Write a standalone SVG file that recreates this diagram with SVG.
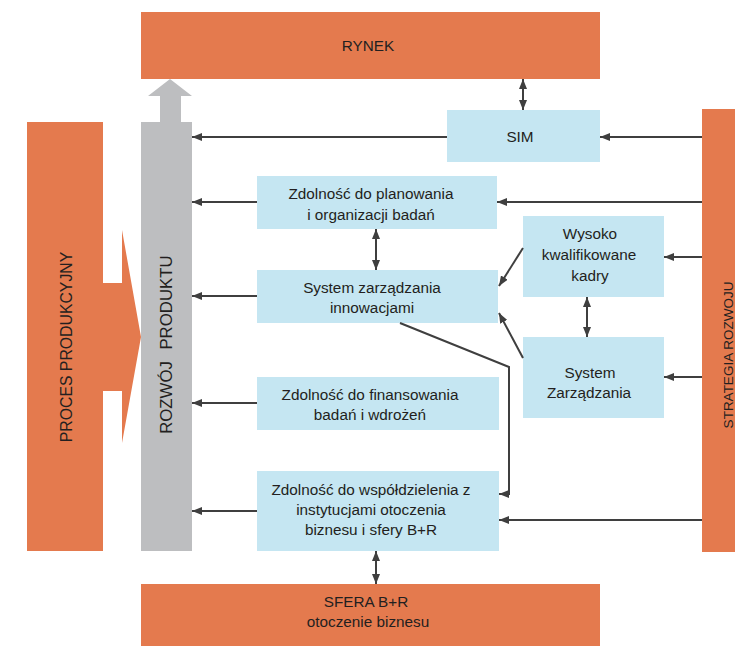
<svg xmlns="http://www.w3.org/2000/svg" width="735" height="646" viewBox="0 0 735 646">
<style>
.or{fill:#E47A4E}
.bl{fill:#C5E6F2}
.gr{fill:#BDBEC0}
text{font-family:"Liberation Sans",Arial,sans-serif;font-size:15.3px;fill:#231F20;text-anchor:middle}
.c{fill:none;stroke:#3F3F3F;stroke-width:2}
</style>
<defs>
<marker id="ah" markerUnits="userSpaceOnUse" markerWidth="10" markerHeight="8" refX="10" refY="4" orient="auto-start-reverse" viewBox="0 0 10 8">
<path d="M0,0 L10,4 L0,8 z" fill="#3F3F3F"/>
</marker>
</defs>
<rect width="735" height="646" fill="#fff"/>
<g id="rynek"><rect class="or" x="141" y="12" width="459" height="67"/><text x="368" y="51">RYNEK</text></g>
<g id="sfera"><rect class="or" x="141" y="584" width="459" height="62"/><text x="366" y="607">SFERA B+R</text><text x="368" y="627">otoczenie biznesu</text></g>
<g id="proces"><rect class="or" x="27" y="122" width="76" height="429"/><polygon class="or" points="103,283 122,283 122,230 141,337 122,443 122,391 103,391"/><text transform="translate(72,347) rotate(-90)" style="font-size:15.8px">PROCES PRODUKCYJNY</text></g>
<g id="rozwoj"><rect class="gr" x="141" y="122" width="51" height="429"/><polygon class="gr" points="160,122 160,96 148,96 170,79 192,96 181,96 181,122"/><text transform="translate(172,302.5) rotate(-90)" style="font-size:16.8px">PRODUKTU</text><text transform="translate(172,397.5) rotate(-90)" style="font-size:16.8px">ROZWÓJ</text></g>
<g id="strategia"><rect class="or" x="702" y="109" width="33" height="443"/><text transform="translate(733,355) rotate(-90)" style="font-size:13.5px">STRATEGIA ROZWOJU</text></g>
<g id="sim"><rect class="bl" x="447" y="110" width="153" height="52"/><text x="520" y="142">SIM</text></g>
<g id="planowanie"><rect class="bl" x="257" y="176" width="240" height="53"/><text x="371" y="199">Zdolność do planowania</text><text x="371" y="220">i organizacji badań</text></g>
<g id="szi"><rect class="bl" x="257" y="270" width="241" height="53"/><text x="372" y="293">System zarządzania</text><text x="372" y="313">innowacjami</text></g>
<g id="finansowanie"><rect class="bl" x="257" y="377" width="242" height="53"/><text x="370" y="400">Zdolność do finansowania</text><text x="370" y="420">badań i wdrożeń</text></g>
<g id="wspoldzielenie"><rect class="bl" x="257" y="471" width="242" height="80"/><text x="371" y="495">Zdolność do współdzielenia z</text><text x="371" y="515">instytucjami otoczenia</text><text x="371" y="535">biznesu i sfery B+R</text></g>
<g id="kadry"><rect class="bl" x="523" y="216" width="141" height="81"/><text x="590" y="239">Wysoko</text><text x="589" y="260">kwalifikowane</text><text x="590" y="281">kadry</text></g>
<g id="sz"><rect class="bl" x="523" y="337" width="141" height="81"/><text x="590" y="378">System</text><text x="589" y="398">Zarządzania</text></g>
<g id="connectors">
<path class="c" marker-end="url(#ah)" d="M447,137 H192"/>
<path class="c" marker-end="url(#ah)" d="M702,137 H600"/>
<path class="c" marker-end="url(#ah)" d="M257,202 H192"/>
<path class="c" marker-end="url(#ah)" d="M702,202 H497"/>
<path class="c" marker-end="url(#ah)" d="M257,296 H192"/>
<path class="c" marker-end="url(#ah)" d="M257,403 H192"/>
<path class="c" marker-end="url(#ah)" d="M257,511 H192"/>
<path class="c" marker-end="url(#ah)" d="M702,257 H664"/>
<path class="c" marker-end="url(#ah)" d="M702,377 H664"/>
<path class="c" marker-end="url(#ah)" d="M702,520 H499"/>
<path class="c" marker-start="url(#ah)" marker-end="url(#ah)" d="M376,229 V270"/>
<path class="c" marker-start="url(#ah)" marker-end="url(#ah)" d="M587,297 V337"/>
<path class="c" marker-start="url(#ah)" marker-end="url(#ah)" d="M376,551 V584"/>
<path class="c" marker-start="url(#ah)" marker-end="url(#ah)" d="M523,79 V110"/>
<path class="c" marker-end="url(#ah)" d="M523,248 L499,286"/>
<path class="c" marker-end="url(#ah)" d="M523,358 L499,313"/>
<path class="c" marker-end="url(#ah)" d="M400,323 L509,367 V494 H499"/>
</g>
</svg>
